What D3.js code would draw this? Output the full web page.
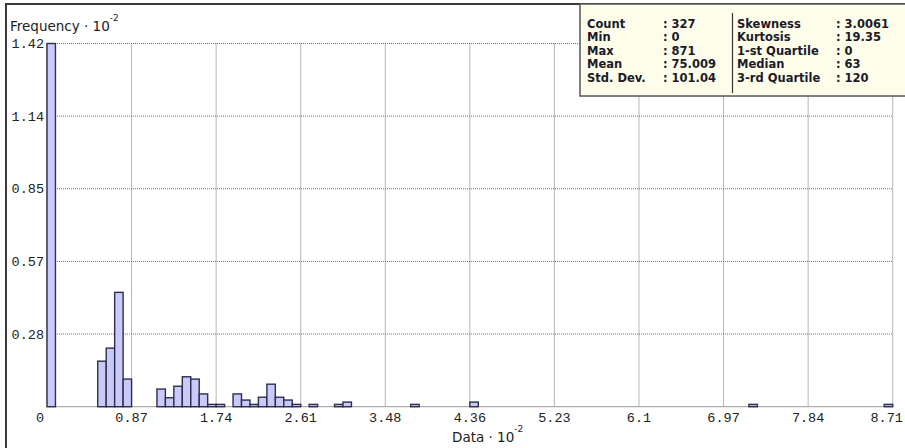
<!DOCTYPE html>
<html>
<head>
<meta charset="utf-8">
<script src="https://cdn.jsdelivr.net/npm/d3@7"></script>
<style>
  html, body { margin: 0; padding: 0; background: #fff; }
  svg { display: block; }
</style>
</head>
<body>
<div id="chart"></div>
<script>
// histogram data (x in units of 10^-2, frequency in units of 10^-2)
let binNo = [0, 6, 7, 8, 9, 13, 14, 15, 16, 17, 18, 19, 20, 22, 23, 24, 25, 26, 27, 28, 29, 31, 34, 35, 43, 50, 83, 99];
let freq = [1.42, 0.178, 0.229, 0.447, 0.108, 0.069, 0.035, 0.080, 0.117, 0.108, 0.050, 0.009, 0.009,
            0.050, 0.026, 0.009, 0.037, 0.088, 0.037, 0.026, 0.009, 0.009, 0.009, 0.018, 0.009, 0.018, 0.009, 0.009];
let binWidth = 0.0871;

let xTickLabels = ["0", "0.87", "1.74", "2.61", "3.48", "4.36", "5.23", "6.1", "6.97", "7.84", "8.71"];
let yTickLabels = ["0.28", "0.57", "0.85", "1.14", "1.42"];

let statsLeft = [["Count", ": 327"], ["Min", ": 0"], ["Max", ": 871"], ["Mean", ": 75.009"], ["Std. Dev.", ": 101.04"]];
let statsRight = [["Skewness", ": 3.0061"], ["Kurtosis", ": 19.35"], ["1-st Quartile", ": 0"], ["Median", ": 63"], ["3-rd Quartile", ": 120"]];

let width = 905, height = 448;
let plot = {left: 47, right: 892.7, top: 43.5, bottom: 406.7};

let svg = d3.select("#chart").append("svg")
    .attr("width", width)
    .attr("height", height);

let x = d3.scaleLinear().domain([0, 8.71]).range([plot.left, plot.right]);
let y = d3.scaleLinear().domain([0, 1.42]).range([plot.bottom, plot.top]);

let xTicks = xTickLabels.map((d, i) => 8.71 * i / 10);
let yTicks = yTickLabels.map((d, i) => 1.42 * (i + 1) / 5);

// grid
let grid = svg.append("g").attr("stroke", "#6e6e6e").attr("stroke-dasharray", "1,1").attr("stroke-width", 1);
grid.selectAll(".vg").data(xTicks.slice(1)).enter().append("line")
    .attr("x1", d => x(d)).attr("x2", d => x(d))
    .attr("y1", plot.top).attr("y2", plot.bottom);
grid.selectAll(".hg").data(yTicks).enter().append("line")
    .attr("x1", plot.left).attr("x2", plot.right)
    .attr("y1", d => y(d)).attr("y2", d => y(d));

// axis lines
svg.append("line").attr("x1", plot.left).attr("x2", plot.right)
    .attr("y1", plot.bottom).attr("y2", plot.bottom).attr("stroke", "#999");
svg.append("line").attr("x1", plot.left).attr("x2", plot.left)
    .attr("y1", plot.top).attr("y2", plot.bottom).attr("stroke", "#999");

// bars
svg.append("g").selectAll("rect").data(binNo).enter().append("rect")
    .attr("x", d => x(d * binWidth))
    .attr("width", d => x((d + 1) * binWidth) - x(d * binWidth))
    .attr("y", (d, i) => y(freq[i]))
    .attr("height", (d, i) => y(0) - y(freq[i]))
    .attr("fill", "#c9c9fa")
    .attr("stroke", "#2e2e4e")
    .attr("stroke-width", 1.4);

// tick labels
let mono = "'Liberation Mono', 'DejaVu Sans Mono', monospace";
svg.append("g").selectAll("text").data(xTicks).enter().append("text")
    .attr("x", (d, i) => i === 0 ? x(d) - 7 : (i === xTicks.length - 1 ? x(d) - 6 : x(d)))
    .attr("y", plot.bottom + 15)
    .attr("text-anchor", "middle")
    .attr("font-family", mono)
    .attr("font-size", 13.5)
    .attr("fill", "#222")
    .text((d, i) => xTickLabels[i]);
svg.append("g").selectAll("text").data(yTicks).enter().append("text")
    .attr("x", 44)
    .attr("y", d => y(d) + 4.5)
    .attr("text-anchor", "end")
    .attr("font-family", mono)
    .attr("font-size", 13.5)
    .attr("fill", "#222")
    .text((d, i) => yTickLabels[i]);

// axis titles
let sans = "'DejaVu Sans', Verdana, sans-serif";
let yt = svg.append("text").attr("x", 10).attr("y", 31)
    .attr("font-family", sans).attr("font-size", 13.5).attr("fill", "#222");
yt.append("tspan").text("Frequency \u00b7 10");
yt.append("tspan").attr("dy", -10).attr("font-size", 9).text("-2");

let xt = svg.append("text").attr("x", 452).attr("y", 442)
    .attr("font-family", sans).attr("font-size", 13.5).attr("fill", "#222");
xt.append("tspan").text("Data \u00b7 10");
xt.append("tspan").attr("dy", -10).attr("font-size", 9).text("-2");

// outer frame
svg.append("rect").attr("x", 6).attr("y", 4).attr("width", 910).attr("height", 460)
    .attr("fill", "none").attr("stroke", "#3a3a3a").attr("stroke-width", 2);

// stats box
let box = svg.append("g");
box.append("rect").attr("x", 580).attr("y", 4).attr("width", 340).attr("height", 92)
    .attr("fill", "#fefdea").attr("stroke", "#555").attr("stroke-width", 1.5);
box.append("line").attr("x1", 732.5).attr("x2", 732.5).attr("y1", 13).attr("y2", 93)
    .attr("stroke", "#333").attr("stroke-width", 1.2);

let rowY = d3.scaleLinear().domain([0, 4]).range([27.5, 81.5]);
function statCol(rows, xl, xv) {
    let g = box.append("g").attr("font-family", sans).attr("font-size", 11.5)
        .attr("font-weight", "bold").attr("fill", "#1a1a2a");
    g.selectAll(".l").data(rows).enter().append("text")
        .attr("x", xl).attr("y", (d, i) => rowY(i)).text(d => d[0]);
    g.selectAll(".v").data(rows).enter().append("text")
        .attr("x", xv).attr("y", (d, i) => rowY(i)).text(d => d[1]);
}
statCol(statsLeft, 587, 663);
statCol(statsRight, 737, 836);
</script>
</body>
</html>
